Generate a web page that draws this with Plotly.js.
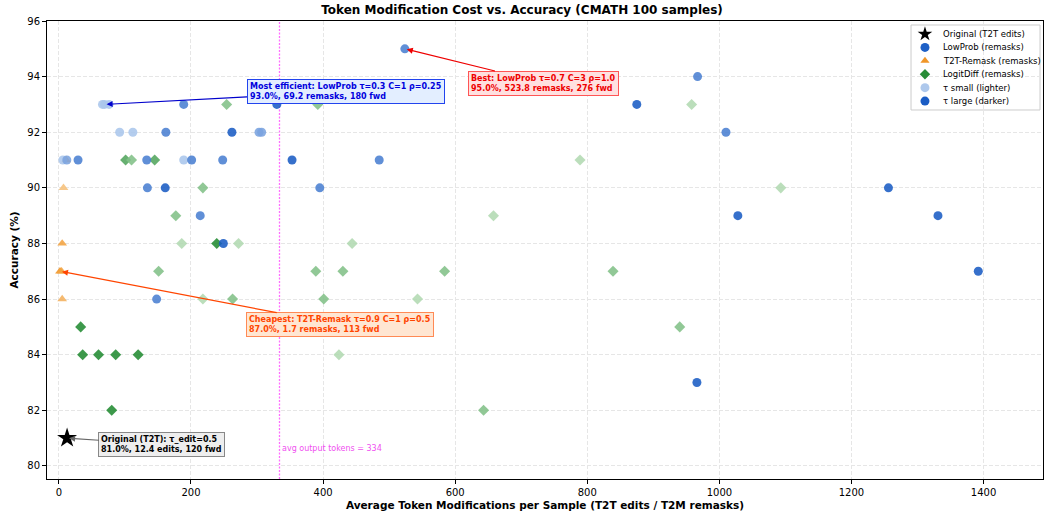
<!DOCTYPE html>
<html><head><meta charset="utf-8">
<script src="https://cdn.plot.ly/plotly-3.0.1.min.js"></script>
<style>html,body{margin:0;padding:0;background:#fff}#chart{width:1044px;height:516px}</style>
</head><body><div id="chart"></div>
<script>
// ---- data ----
const origX = [12.4];
const origY = [81.0];

const lowprobX = [523.8, 967, 66, 69.2, 76, 189, 330, 875, 92, 112, 162, 262, 303, 307, 1010, 6, 12, 29, 133, 189, 201, 248, 353, 485, 134, 161, 395, 1256, 214, 1028, 1331, 249, 1392, 148, 966];
const lowprobY = [95, 94, 93, 93, 93, 93, 93, 93, 92, 92, 92, 92, 92, 92, 92, 91, 91, 91, 91, 91, 91, 91, 91, 91, 90, 90, 90, 90, 89, 89, 89, 88, 87, 86, 83];
const lowprobTau = [0.7, 0.7, 0.3, 0.3, 0.3, 0.7, 0.9, 0.9, 0.3, 0.3, 0.7, 0.9, 0.5, 0.5, 0.7, 0.3, 0.5, 0.7, 0.7, 0.3, 0.7, 0.7, 0.9, 0.7, 0.7, 0.9, 0.7, 0.9, 0.7, 0.9, 0.9, 0.9, 0.9, 0.7, 0.9];

const t2tX = [11, 7, 5, 1.7, 4, 5];
const t2tY = [91, 90, 88, 87, 87, 86];
const t2tTau = [0.7, 0.3, 0.7, 0.9, 0.7, 0.5];

const logitX = [254, 392, 958, 101, 110, 145, 789, 218, 1093, 177, 658, 186, 239, 272, 444, 151, 389, 430, 584, 839, 218, 263, 401, 543, 33, 940, 36, 60, 86, 120, 424, 80, 643];
const logitY = [93, 93, 93, 91, 91, 91, 91, 90, 90, 89, 89, 88, 88, 88, 88, 87, 87, 87, 87, 87, 86, 86, 86, 86, 85, 85, 84, 84, 84, 84, 84, 82, 82];
const logitTau = [0.5, 0.5, 0.3, 0.7, 0.5, 0.7, 0.3, 0.5, 0.3, 0.5, 0.3, 0.3, 0.9, 0.3, 0.3, 0.5, 0.5, 0.5, 0.5, 0.5, 0.3, 0.5, 0.5, 0.3, 0.9, 0.5, 0.9, 0.9, 0.9, 0.9, 0.3, 0.9, 0.5];

const avgTokens = 334;
const xTicks = [0, 200, 400, 600, 800, 1000, 1200, 1400];
const yTicks = [80, 82, 84, 86, 88, 90, 92, 94, 96];
const legendLabels = ['Original (T2T edits)', 'LowProb (remasks)', 'T2T-Remask (remasks)', 'LogitDiff (remasks)', 'τ small (lighter)', 'τ large (darker)'];

// ---- styling ----
const X_RANGE = [-18, 1490], Y_RANGE = [79.53, 96];
function shade(light, dark, tau) {
  const t = Math.max(0, Math.min(1, (tau - 0.3) / 0.6));
  const c = light.map((v, i) => Math.round(v + (dark[i] - v) * t));
  return `rgb(${c[0]},${c[1]},${c[2]})`;
}
const BLUE_L = [170, 198, 236], BLUE_D = [26, 92, 196];
const GREEN_L = [178, 218, 178], GREEN_D = [34, 139, 50];
const ORANGE_L = [246, 192, 122], ORANGE_D = [240, 148, 36];
const MOP = 0.88;

const FONT = 'DejaVu Sans, sans-serif';

const traces = [
  {x: logitX, y: logitY, mode: 'markers', type: 'scatter', name: 'LogitDiff (remasks)', showlegend: false,
   marker: {symbol: 'diamond', size: 8.5, opacity: MOP, color: logitTau.map(t => shade(GREEN_L, GREEN_D, t)), line: {width: 0}}},
  {x: t2tX, y: t2tY, mode: 'markers', type: 'scatter', name: 'T2T-Remask (remasks)', showlegend: false,
   marker: {symbol: 'triangle-up', size: 8.5, opacity: MOP, color: t2tTau.map(t => shade(ORANGE_L, ORANGE_D, t)), line: {width: 0}}},
  {x: lowprobX, y: lowprobY, mode: 'markers', type: 'scatter', name: 'LowProb (remasks)', showlegend: false,
   marker: {symbol: 'circle', size: 9, opacity: MOP, color: lowprobTau.map(t => shade(BLUE_L, BLUE_D, t)), line: {width: 0}}},
  {x: origX, y: origY, mode: 'markers', type: 'scatter', name: 'Original (T2T edits)', showlegend: false,
   marker: {symbol: 'star', size: 15, opacity: 1, color: '#000000', line: {width: 0}}}
];

// ---- compact legend (matplotlib-like), placed by plot-area fractions ----
const legX0 = 0.8675, legX1 = 0.997, legY0 = 0.8057, legY1 = 0.9913;
const legMarkX = 0.8815, legTextX = 0.8976, legTopY = 0.9716, legStep = 0.0293;
const legSymbols = ['star', 'circle', 'triangle-up', 'diamond', 'circle', 'circle'];
const legColors = ['#000000', 'rgb(30,96,198)', 'rgb(240,150,40)', 'rgb(40,140,55)', 'rgb(174,200,236)', 'rgb(26,92,196)'];
const legSizes = [11, 9, 8, 8, 9, 9];
const legYs = legendLabels.map((_, i) => legTopY - i * legStep);
const fx = f => X_RANGE[0] + f * (X_RANGE[1] - X_RANGE[0]);
const fy = f => Y_RANGE[0] + f * (Y_RANGE[1] - Y_RANGE[0]);
traces.push({x: legendLabels.map(() => fx(legMarkX)), y: legYs.map(fy), mode: 'markers', type: 'scatter',
  showlegend: false, hoverinfo: 'skip',
  marker: {symbol: legSymbols, size: legSizes, opacity: 1, color: legColors, line: {width: 0}}});

function ann(px, py, tx, ty, text, color, bg, border, acolor) {
  return {x: px, y: py, ax: tx, ay: ty, xref: 'x', yref: 'y', axref: 'x', ayref: 'y',
    text: text, showarrow: true, arrowhead: 2, arrowsize: 1, arrowwidth: 1.2, arrowcolor: acolor,
    standoff: 2, font: {family: FONT, size: 8, color: color}, align: 'left',
    bgcolor: bg, bordercolor: border, borderwidth: 1, borderpad: 2};
}

const annotations = [
  ann(523.8, 95, 734, 93.77, '<b>Best: LowProb τ=0.7 C=3 ρ=1.0<br>95.0%, 523.8 remasks, 276 fwd</b>', '#ee0000', '#ffe0e0', '#ff5555', '#ee0000'),
  ann(69.2, 93, 434, 93.46, '<b>Most efficient: LowProb τ=0.3 C=1 ρ=0.25<br>93.0%, 69.2 remasks, 180 fwd</b>', '#0000dd', '#e3eeff', '#2244ee', '#0000cc'),
  ann(1.7, 87, 425, 85.08, '<b>Cheapest: T2T-Remask τ=0.9 C=1 ρ=0.5<br>87.0%, 1.7 remasks, 113 fwd</b>', '#ff4500', '#ffe6d2', '#ff8a55', '#ff4500'),
  ann(12.4, 81, 156, 80.77, '<b>Original (T2T): τ_edit=0.5<br>81.0%, 12.4 edits, 120 fwd</b>', '#000000', '#eeeeee', '#888888', '#666666'),
  {x: avgTokens, y: 80.62, xref: 'x', yref: 'y', text: 'avg output tokens = ' + avgTokens, showarrow: false,
   xanchor: 'left', xshift: 1, font: {family: FONT, size: 8, color: '#f050f0'}}
];
legendLabels.forEach((lab, i) => annotations.push({x: legTextX, y: legYs[i], xref: 'paper', yref: 'paper', text: lab,
  showarrow: false, xanchor: 'left', yanchor: 'middle', font: {family: FONT, size: 8.5, color: '#000'}}));

const layout = {
  width: 1044, height: 516,
  margin: {l: 47, r: 1, t: 21, b: 37},
  paper_bgcolor: '#ffffff', plot_bgcolor: '#ffffff',
  font: {family: FONT, size: 10, color: '#000'},
  title: {text: '<b>Token Modification Cost vs. Accuracy (CMATH 100 samples)</b>', font: {family: FONT, size: 12, color: '#000'}, x: 0.5, xanchor: 'center', y: 0.981, yanchor: 'middle'},
  xaxis: {range: X_RANGE, tickvals: xTicks, ticks: 'outside', ticklen: 4, tickcolor: '#000',
    showline: true, mirror: true, linecolor: '#000', linewidth: 1, zeroline: false,
    showgrid: true, gridcolor: '#e6e6e6', griddash: '4px,2px', gridwidth: 1,
    tickfont: {family: FONT, size: 10},
    title: {text: '<b>Average Token Modifications per Sample (T2T edits / T2M remasks)</b>', font: {family: FONT, size: 10.5}, standoff: 4}},
  yaxis: {range: Y_RANGE, tickvals: yTicks, ticks: 'outside', ticklen: 4, tickcolor: '#000',
    showline: true, mirror: true, linecolor: '#000', linewidth: 1, zeroline: false,
    showgrid: true, gridcolor: '#e6e6e6', griddash: '4px,2px', gridwidth: 1,
    tickfont: {family: FONT, size: 10},
    title: {text: '<b>Accuracy (%)</b>', font: {family: FONT, size: 10.5}, standoff: 6}},
  showlegend: false,
  shapes: [
    {type: 'line', xref: 'x', yref: 'paper', x0: avgTokens, x1: avgTokens, y0: 0, y1: 1, layer: 'between',
     line: {color: 'rgb(255,110,255)', width: 1.3, dash: '2px,1.5px'}},
    {type: 'rect', xref: 'paper', yref: 'paper', x0: legX0, x1: legX1, y0: legY0, y1: legY1,
     fillcolor: '#ffffff', line: {color: '#cccccc', width: 1}, layer: 'between'}
  ],
  annotations: annotations
};

Plotly.newPlot('chart', traces, layout, {displayModeBar: false, staticPlot: true});
</script></body></html>
